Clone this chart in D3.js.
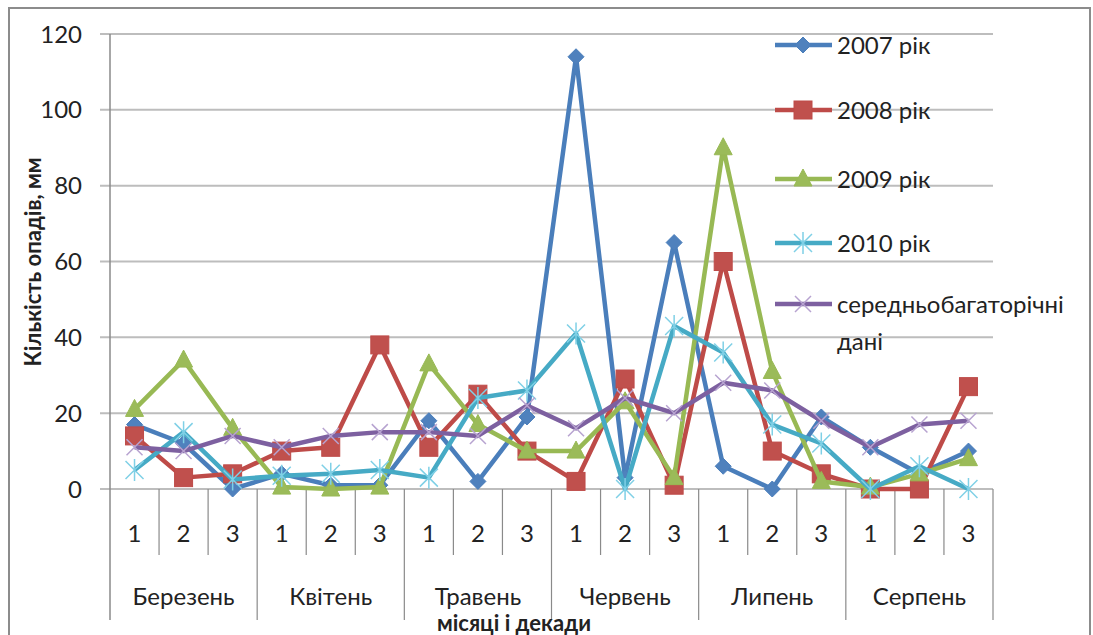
<!DOCTYPE html>
<html><head><meta charset="utf-8">
<script src="https://cdn.jsdelivr.net/npm/d3@7"></script>
<style>body{margin:0;background:#fff}svg{display:block}text{font-family:Lato,"Open Sans",sans-serif;fill:#222}</style>
</head><body>
<svg id="c" width="1093" height="635"></svg>
<script>
const months = ["Березень","Квітень","Травень","Червень","Липень","Серпень"];
const decades = ["1","2","3"];
const seriesNames = ["2007 рік","2008 рік","2009 рік","2010 рік","середньобагаторічні дані"];
const v2007 = [17,12,0,4,1,1,18,2,19,114,3,65,6,0,19,11,4,10];
const v2008 = [14,3,4,10,11,38,11,25,10,2,29,1,60,10,4,0,0,27];
const v2009 = [21,34,16,0.5,0,0.5,33,17,10,10,23,3,90,31,2,0.5,4,8];
const v2010 = [5,15,2.5,3.5,4,5,3,24,26,41,0,43,36,17,12,0,6,0];
const vAvg  = [11,10,14,11,14,15,15,14,22,16,24,20,28,26,18,11,17,18];
const yTicks = [0,20,40,60,80,100,120];

const svg = d3.select("#c");
const L=110, R=993, T=34, B=489;
const cats = [];
months.forEach(m=>decades.forEach(d=>cats.push(m+"|"+d)));
const x = d3.scaleBand().domain(cats).range([L,R]);
const y = d3.scaleLinear().domain([0,120]).range([B,T]);

// outer frame
svg.append("rect").attr("x",9).attr("y",8).attr("width",1081).attr("height",660)
  .attr("fill","none").attr("stroke","#8c8c8c").attr("stroke-width",2);

// gridlines + ticks
svg.append("g").selectAll("line").data(yTicks).join("line")
  .attr("x1",100).attr("x2",R).attr("y1",d=>y(d)).attr("y2",d=>y(d))
  .attr("stroke","#bdbdbd").attr("stroke-width",2);
svg.append("g").selectAll("text").data(yTicks).join("text")
  .attr("x",82).attr("y",d=>y(d)).attr("dy","0.36em").attr("text-anchor","end")
  .attr("font-size",24).text(d=>d);

// axis lines
svg.append("line").attr("x1",L).attr("x2",L).attr("y1",T).attr("y2",620).attr("stroke","#8a8a8a").attr("stroke-width",1.5);
// category separators
const bw = x.bandwidth();
cats.forEach((c,i)=>{
  if(i===0) return;
  const xx = x(c);
  const isMonth = i%3===0;
  svg.append("line").attr("x1",xx).attr("x2",xx).attr("y1",B).attr("y2",isMonth?620:555)
    .attr("stroke","#8a8a8a").attr("stroke-width",1.2);
});
svg.append("line").attr("x1",R).attr("x2",R).attr("y1",B).attr("y2",620).attr("stroke","#8a8a8a").attr("stroke-width",1.2);
// decade labels
svg.append("g").selectAll("text").data(cats).join("text")
  .attr("x",d=>x(d)+bw/2).attr("y",533).attr("dy","0.36em").attr("text-anchor","middle")
  .attr("font-size",24).text(d=>d.split("|")[1]);
svg.append("g").selectAll("text").data(months).join("text")
  .attr("x",d=>x(d+"|2")+bw/2).attr("y",596).attr("dy","0.36em").attr("text-anchor","middle")
  .attr("font-size",24).text(d=>d);

// axis titles
svg.append("text").attr("x",514).attr("y",623).attr("dy","0.36em").attr("text-anchor","middle")
  .attr("font-size",22).attr("font-weight","bold").text("місяці і декади");
svg.append("text").attr("transform","translate(33,262) rotate(-90)").attr("dy","0.36em")
  .attr("text-anchor","middle").attr("font-size",22).attr("font-weight","bold").text("Кількість опадів, мм");

const series = [
  {name:seriesNames[0], vals:v2007, line:"#4A7EBB", mk:"#4F81BD", shape:"diamond"},
  {name:seriesNames[1], vals:v2008, line:"#BE4B48", mk:"#C0504D", shape:"square"},
  {name:seriesNames[2], vals:v2009, line:"#98B954", mk:"#9BBB59", shape:"triangle"},
  {name:seriesNames[3], vals:v2010, line:"#46AAC5", mk:"#7FD0E6", shape:"star"},
  {name:seriesNames[4], vals:vAvg,  line:"#7D60A0", mk:"#B7A3D0", shape:"x"}
];

function marker(g, shape, cx, cy, s){
  if(shape==="diamond"){
    g.append("path").attr("d",`M${cx},${cy-8}L${cx+8},${cy}L${cx},${cy+8}L${cx-8},${cy}Z`).attr("fill",s.mk).attr("stroke",s.line).attr("stroke-width",1);
  } else if(shape==="square"){
    g.append("rect").attr("x",cx-9).attr("y",cy-9).attr("width",18).attr("height",18).attr("fill",s.mk).attr("stroke",s.line).attr("stroke-width",1);
  } else if(shape==="triangle"){
    g.append("path").attr("d",`M${cx},${cy-10}L${cx+9},${cy+7}L${cx-9},${cy+7}Z`).attr("fill",s.mk).attr("stroke",s.line).attr("stroke-width",1);
  } else if(shape==="star"){
    const r=9;
    g.append("path").attr("d",`M${cx-r},${cy-r}L${cx+r},${cy+r}M${cx-r},${cy+r}L${cx+r},${cy-r}M${cx},${cy-r-2}L${cx},${cy+r+2}`)
      .attr("stroke",s.mk).attr("stroke-width",1.5).attr("fill","none");
  } else {
    const r=8;
    g.append("path").attr("d",`M${cx-r},${cy-r}L${cx+r},${cy+r}M${cx-r},${cy+r}L${cx+r},${cy-r}`)
      .attr("stroke",s.mk).attr("stroke-width",1.5).attr("fill","none");
  }
}

const line = d3.line().x((d,i)=>x(cats[i])+bw/2).y(d=>y(d));
series.forEach(s=>{
  const g = svg.append("g");
  g.append("path").attr("d",line(s.vals)).attr("fill","none").attr("stroke",s.line)
    .attr("stroke-width",4.5).attr("stroke-linejoin","round");
  s.vals.forEach((v,i)=>marker(g,s.shape,x(cats[i])+bw/2,y(v),s));
});

// legend
const legY = [45,110,179,243,304];
series.forEach((s,i)=>{
  const g = svg.append("g");
  g.append("line").attr("x1",775).attr("x2",832).attr("y1",legY[i]).attr("y2",legY[i]).attr("stroke",s.line).attr("stroke-width",4.5);
  marker(g,s.shape,803,legY[i],s);
  if(i<4){
    g.append("text").attr("x",837).attr("y",legY[i]).attr("dy","0.36em").attr("font-size",24).text(s.name);
  } else {
    const parts = s.name.split(" ");
    g.append("text").attr("x",837).attr("y",legY[i]).attr("dy","0.36em").attr("font-size",24).text(parts[0]);
    g.append("text").attr("x",837).attr("y",legY[i]+37).attr("dy","0.36em").attr("font-size",24).text(parts[1]);
  }
});
</script>
</body></html>
